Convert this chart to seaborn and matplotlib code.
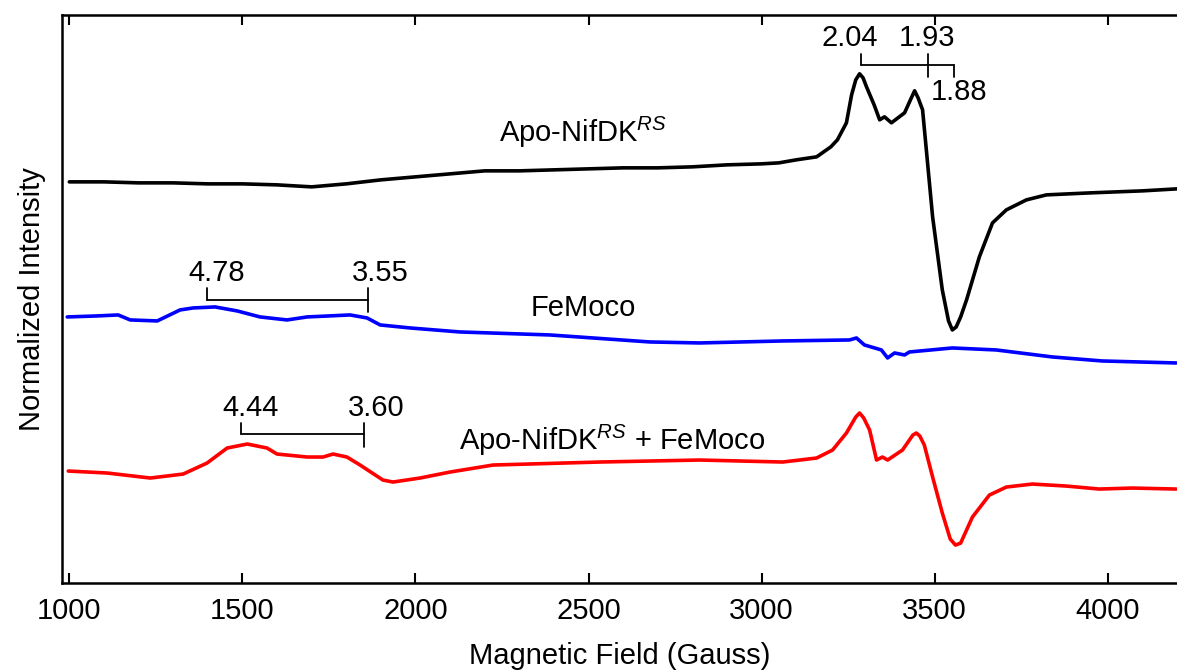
import numpy as np
import pandas as pd
import matplotlib
matplotlib.use("Agg")
import matplotlib.pyplot as plt
import seaborn as sns

# ==========================================
# DATA (field in Gauss, intensity in arbitrary offset units)
# ==========================================
apo_field = [1000, 1100, 1200, 1300, 1400, 1500, 1600, 1700, 1800, 1900, 2000, 2100,
             2200, 2300, 2400, 2500, 2600, 2700, 2800, 2900, 3000, 3050, 3100, 3159,
             3200, 3219, 3245, 3260, 3272, 3283, 3293, 3303, 3325, 3341, 3355, 3375,
             3413, 3430, 3442, 3452, 3465, 3494, 3522, 3540, 3551, 3562, 3575, 3592,
             3629, 3667, 3707, 3765, 3823, 3950, 4100, 4200]
apo_int = [401, 401, 400, 400, 399, 399, 398, 396, 399, 403, 406, 409,
           412, 412, 413, 414, 415, 415, 416, 418, 419, 420, 423, 426,
           436, 443, 460, 488, 503, 509, 505, 496, 478, 463, 466, 460,
           470, 483, 492, 485, 473, 366, 293, 262, 253, 256, 266, 283,
           326, 360, 373, 383, 388, 390, 392, 394]

femoco_field = [994, 1080, 1141, 1176, 1254, 1320, 1358, 1421, 1485, 1551, 1629, 1687,
                1750, 1811, 1860, 1898, 1984, 2128, 2388, 2677, 2821, 3061, 3254, 3274,
                3297, 3346, 3364, 3384, 3413, 3427, 3551, 3678, 3840, 3984, 4198]
femoco_int = [266, 267, 268, 263, 262, 273, 275, 276, 272, 266, 263, 266,
              267, 268, 265, 258, 255, 251, 248, 241, 240, 242, 243, 245,
              238, 233, 225, 230, 228, 231, 235, 233, 226, 222, 220]

mix_field = [997, 1110, 1234, 1329, 1398, 1456, 1514, 1571, 1600, 1687, 1733, 1762,
             1802, 1840, 1906, 1935, 2013, 2100, 2224, 2532, 2821, 3061, 3159, 3205,
             3245, 3272, 3283, 3295, 3312, 3332, 3349, 3364, 3407, 3437, 3447, 3457,
             3470, 3494, 3522, 3545, 3560, 3575, 3609, 3658, 3707, 3782, 3880, 3975,
             4071, 4198]
mix_int = [112, 110, 105, 109, 120, 135, 139, 135, 129, 126, 126, 129,
           126, 118, 103, 101, 105, 111, 118, 121, 123, 121, 125, 133,
           150, 166, 170, 165, 153, 123, 126, 123, 133, 148, 150, 147,
           138, 106, 70, 44, 38, 40, 66, 88, 96, 99, 97, 94,
           95, 94]

series_names = ["Apo-NifDK", "FeMoco", "Apo-NifDK + FeMoco"]
series_colors = ["#000000", "#0000ff", "#ff0000"]

# trace labels: (text, field, intensity)
trace_labels = [(r"Apo-NifDK$^{RS}$", 2484, 450),
                ("FeMoco", 2484, 275),
                (r"Apo-NifDK$^{RS}$ + FeMoco", 2567, 143)]

# g-value markers: (g label, field)
g_apo = [("2.04", 3286), ("1.93", 3482), ("1.88", 3557)]
g_femoco = [("4.78", 1398), ("3.55", 1863)]
g_mix = [("4.44", 1496), ("3.60", 1851)]

# ==========================================
# PLOT
# ==========================================
frames = []
for name, f, y in zip(series_names, [apo_field, femoco_field, mix_field],
                      [apo_int, femoco_int, mix_int]):
    frames.append(pd.DataFrame({"Field": f, "Intensity": y, "Sample": name}))
df = pd.concat(frames, ignore_index=True)

sns.set_style("ticks", {"axes.edgecolor": "black", "text.color": "black",
                        "axes.labelcolor": "black", "xtick.color": "black",
                        "ytick.color": "black"})
plt.rcParams["font.family"] = ["Liberation Sans", "DejaVu Sans"]
plt.rcParams["mathtext.fontset"] = "custom"
plt.rcParams["mathtext.rm"] = "Liberation Sans"
plt.rcParams["mathtext.it"] = "Liberation Sans:italic"

fig = plt.figure(figsize=(11.77, 6.71), dpi=100)
ax = fig.add_axes([0.053, 0.131, 0.947, 0.847])

sns.lineplot(data=df, x="Field", y="Intensity", hue="Sample", palette=series_colors,
             estimator=None, sort=False, linewidth=2.6, legend=False, ax=ax)
for ln in ax.lines:
    ln.set_solid_joinstyle("round")
    ln.set_solid_capstyle("round")

ax.set_xlim(980, 4200)
ax.set_ylim(0, 568)

fs = 21
for txt, gx, gy in trace_labels:
    ax.text(gx, gy, txt, fontsize=fs, ha="center", va="center")

lw = 1.3
# Apo-NifDK bracket: 2.04 up tick, 1.93 crossing tick, 1.88 down tick
yb = 518
ax.plot([g_apo[0][1], g_apo[2][1]], [yb, yb], color="black", lw=lw)
ax.plot([g_apo[0][1]] * 2, [yb, yb + 11], color="black", lw=lw)
ax.plot([g_apo[1][1]] * 2, [yb - 12, yb + 11], color="black", lw=lw)
ax.plot([g_apo[2][1]] * 2, [yb - 12, yb], color="black", lw=lw)
ax.text(g_apo[0][1] - 30, 545, g_apo[0][0], fontsize=fs, ha="center", va="center")
ax.text(g_apo[1][1] - 5, 545, g_apo[1][0], fontsize=fs, ha="center", va="center")
ax.text(g_apo[2][1] + 12, 491, g_apo[2][0], fontsize=fs, ha="center", va="center")

# FeMoco bracket
yb = 283
ax.plot([g_femoco[0][1], g_femoco[1][1]], [yb, yb], color="black", lw=lw)
ax.plot([g_femoco[0][1]] * 2, [yb, yb + 12], color="black", lw=lw)
ax.plot([g_femoco[1][1]] * 2, [yb - 12, yb + 12], color="black", lw=lw)
ax.text(g_femoco[0][1] + 29, 310, g_femoco[0][0], fontsize=fs, ha="center", va="center")
ax.text(g_femoco[1][1] + 35, 310, g_femoco[1][0], fontsize=fs, ha="center", va="center")

# Apo-NifDK + FeMoco bracket
yb = 149
ax.plot([g_mix[0][1], g_mix[1][1]], [yb, yb], color="black", lw=lw)
ax.plot([g_mix[0][1]] * 2, [yb, yb + 11], color="black", lw=lw)
ax.plot([g_mix[1][1]] * 2, [yb - 13, yb + 11], color="black", lw=lw)
ax.text(g_mix[0][1] + 29, 175, g_mix[0][0], fontsize=fs, ha="center", va="center")
ax.text(g_mix[1][1] + 35, 175, g_mix[1][0], fontsize=fs, ha="center", va="center")

ax.set_xticks([1000, 1500, 2000, 2500, 3000, 3500, 4000])
ax.set_yticks([])
ax.tick_params(axis="x", direction="in", top=True, length=7, width=1.5,
               labelsize=fs, pad=10)
for side in ["left", "bottom", "top"]:
    ax.spines[side].set_linewidth(1.8)
ax.spines["right"].set_visible(False)

ax.set_xlabel("Magnetic Field (Gauss)", fontsize=fs, labelpad=12)
ax.set_ylabel("Normalized Intensity", fontsize=fs, labelpad=12)

fig.savefig("out.png", dpi=100)
